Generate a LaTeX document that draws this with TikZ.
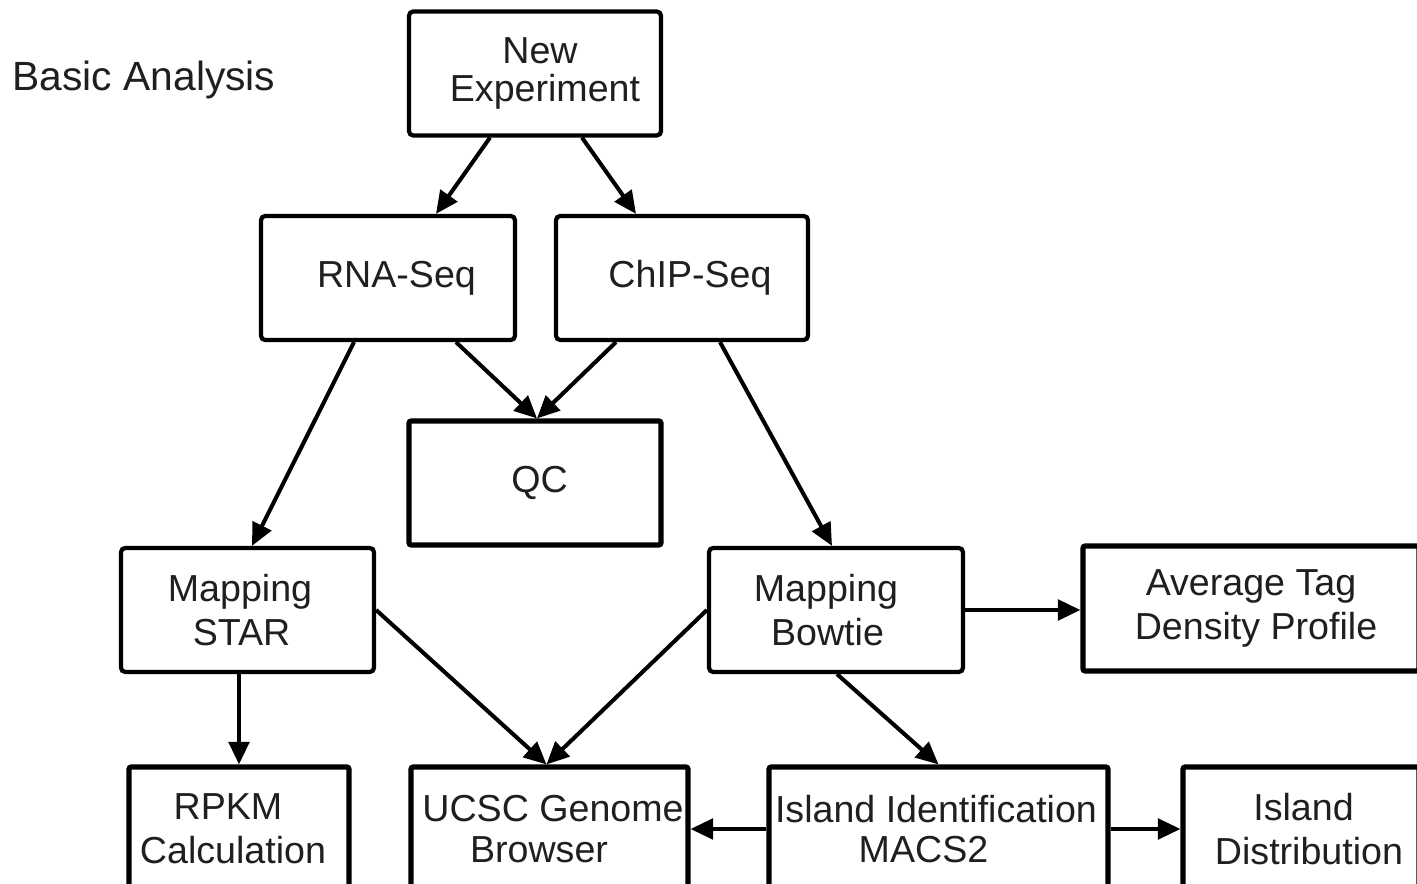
\documentclass[tikz,border=0pt]{standalone}
\usepackage{fontspec}
\setmainfont{Liberation Sans}
\usetikzlibrary{arrows.meta}

\begin{document}
\begin{tikzpicture}[
    stepbox/.style={rectangle, draw, line width=1.2pt, rounded corners=1.2pt, align=center,
        minimum width=2.52cm, minimum height=1.24cm, inner sep=1pt, text=black!88,
        font=\fontsize{10.7}{12.6}\selectfont},
    plainbox/.style={stepbox, line width=1.45pt, rounded corners=0.6pt},
    flow/.style={->, line width=1.15pt},
    >={Triangle[length=6.4pt, width=5.8pt]}
]
\clip (0,0) rectangle (14.17,8.84);

% title
\node[text=black!88, font=\fontsize{11.6}{14}\selectfont] (title) at (1.44,8.04) {Basic Analysis};

% first rows
\node[stepbox, font=\fontsize{10.7}{10.7}\selectfont] (NewExp) at (5.35,8.105)
    {\hspace*{0.1cm}New\\\hspace*{0.2cm}Experiment};
\node[stepbox, minimum width=2.54cm] (RNA) at (3.88,6.06) {\hspace*{0.17cm}RNA-Seq};
\node[stepbox] (ChIP) at (6.82,6.06) {\hspace*{0.16cm}ChIP-Seq};
\node[plainbox] (QC) at (5.35,4.01) {\hspace*{0.09cm}QC};

% mapping
\node[stepbox, minimum width=2.53cm] (STAR) at (2.475,2.74)
    {\hspace*{-0.15cm}Mapping\\\hspace*{-0.12cm}STAR};
\node[stepbox, minimum width=2.54cm] (Bowtie) at (8.36,2.74)
    {\hspace*{-0.2cm}Mapping\\\hspace*{-0.17cm}Bowtie};
\node[plainbox, minimum width=3.36cm, minimum height=1.25cm] (ATDP) at (12.51,2.755)
    {Average Tag\\\hspace*{0.1cm}Density Profile};

% results
\node[plainbox, minimum width=2.2cm] (RPKM) at (2.39,0.55)
    {\hspace*{-0.22cm}RPKM\\\hspace*{-0.12cm}Calculation};
\node[plainbox, minimum width=2.77cm, font=\fontsize{10.7}{11.5}\selectfont] (UCSC) at (5.495,0.55)
    {\hspace*{0.07cm}UCSC Genome\\\hspace*{-0.21cm}Browser};
\node[plainbox, minimum width=3.39cm, font=\fontsize{10.7}{11.5}\selectfont] (IslandID) at (9.385,0.55)
    {\hspace*{-0.05cm}Island Identification\\\hspace*{-0.3cm}MACS2};
\node[plainbox, minimum width=2.36cm] (IslandDist) at (13.01,0.55)
    {\hspace*{0.05cm}Island\\\hspace*{0.16cm}Distribution};

% connectors
\draw[flow] ([xshift=-0.45cm]NewExp.south) -- ([xshift=0.48cm]RNA.north);
\draw[flow] ([xshift=0.47cm]NewExp.south) -- ([xshift=-0.46cm]ChIP.north);
\draw[flow] ([xshift=-0.34cm]RNA.south) -- ([xshift=0.045cm]STAR.north);
\draw[flow] ([xshift=0.68cm]RNA.south) -- ([xshift=0.02cm]QC.north);
\draw[flow] ([xshift=-0.66cm]ChIP.south) -- ([xshift=0.02cm]QC.north);
\draw[flow] ([xshift=0.38cm]ChIP.south) -- ([xshift=-0.04cm]Bowtie.north);
\draw[flow] (STAR.south -| RPKM.north) -- (RPKM.north);
\draw[flow] (STAR.east) -- ([xshift=-0.03cm]UCSC.north);
\draw[flow] (Bowtie.west) -- ([xshift=-0.03cm]UCSC.north);
\draw[flow] (Bowtie.east) -- (Bowtie.east -| ATDP.west);
\draw[flow] ([xshift=0.01cm]Bowtie.south) -- (IslandID.north);
\draw[flow] (IslandID.west) -- (UCSC.east);
\draw[flow] (IslandID.east) -- (IslandDist.west);

\end{tikzpicture}
\end{document}
